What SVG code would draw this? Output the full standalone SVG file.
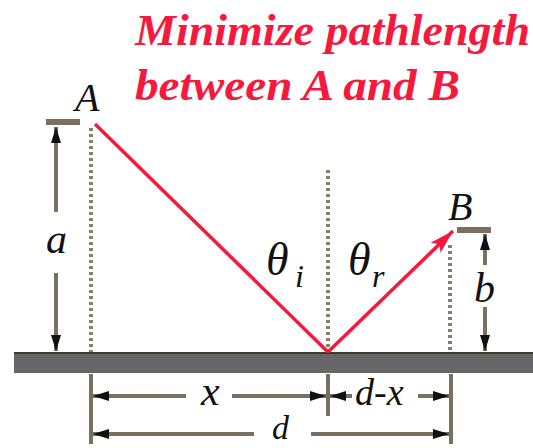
<svg xmlns="http://www.w3.org/2000/svg" width="533" height="448" viewBox="0 0 533 448">
<style>
.dim{stroke:#7a7060;stroke-width:4;fill:none}
.dot{stroke:#8a7f68;stroke-width:4;stroke-dasharray:3 3;fill:none}
.tick{stroke:#7a7060;stroke-width:6}
.lbl{font-style:italic;fill:#111}
.title{font-style:italic;font-weight:bold;fill:#f5193e;font-size:44px}
.ray{stroke:#f5193e;stroke-width:3.5;fill:none}
</style>
<defs>
<marker id="arr" viewBox="0 0 16 12" refX="16" refY="6" markerWidth="16" markerHeight="12" markerUnits="userSpaceOnUse" orient="auto"><path d="M0,1 L16,6 L0,11 z" fill="#111"/></marker>
<marker id="rarr" viewBox="0 0 24 14" refX="24" refY="7" markerWidth="24" markerHeight="14" markerUnits="userSpaceOnUse" orient="auto"><path d="M0,0 L24,7 L0,14 L5,7 z" fill="#f5193e"/></marker>
</defs>
<rect width="533" height="448" fill="#fff"/>
<g font-family="Liberation Serif, DejaVu Serif, serif">
<g id="title">
<text class="title" x="135" y="45" textLength="395" lengthAdjust="spacingAndGlyphs">Minimize pathlength</text>
<text class="title" x="135" y="100" textLength="325" lengthAdjust="spacingAndGlyphs">between A and B</text>
</g>
<g id="ground">
<rect x="14" y="352" width="519" height="21" fill="#666"/>
<line x1="14" y1="353" x2="533" y2="353" stroke="#3e3a34" stroke-width="2"/>
</g>
<g id="pointA">
<text class="lbl" x="75" y="111" font-size="40">A</text>
<line class="tick" x1="46" y1="122" x2="80" y2="122"/>
</g>
<g id="pointB">
<text class="lbl" x="448" y="220" font-size="40">B</text>
<line class="tick" x1="457" y1="230" x2="491" y2="230"/>
</g>
<g id="angles">
<text class="lbl" x="266" y="275" font-size="46">θ</text>
<text class="lbl" x="295" y="287" font-size="32">i</text>
<text class="lbl" x="348" y="275" font-size="46">θ</text>
<text class="lbl" x="372" y="287" font-size="32">r</text>
</g>
<g id="labels">
<text class="lbl" x="46" y="253" font-size="42">a</text>
<text class="lbl" x="474" y="302" font-size="42">b</text>
<text class="lbl" x="201" y="405" font-size="42">x</text>
<text class="lbl" x="355" y="405" font-size="38">d-x</text>
<text class="lbl" x="272" y="439" font-size="34">d</text>
</g>
</g>
<g id="connectors">
<line class="dot" x1="91" y1="128" x2="91" y2="352"/>
<line class="dot" x1="328" y1="170" x2="328" y2="352"/>
<line class="dot" x1="450" y1="245" x2="450" y2="352"/>
<line class="dim" x1="91" y1="374" x2="91" y2="444"/>
<line class="dim" x1="328" y1="374" x2="328" y2="416"/>
<line class="dim" x1="451" y1="374" x2="451" y2="444"/>
<line class="dim" x1="56" y1="212" x2="56" y2="127" marker-end="url(#arr)"/>
<line class="dim" x1="56" y1="273" x2="56" y2="351" marker-end="url(#arr)"/>
<line class="dim" x1="485" y1="265" x2="485" y2="234" marker-end="url(#arr)"/>
<line class="dim" x1="485" y1="307" x2="485" y2="351" marker-end="url(#arr)"/>
<line class="dim" x1="186" y1="396" x2="93" y2="396" marker-end="url(#arr)"/>
<line class="dim" x1="232" y1="396" x2="326" y2="396" marker-end="url(#arr)"/>
<line class="dim" x1="352" y1="396" x2="330" y2="396" marker-end="url(#arr)"/>
<line class="dim" x1="418" y1="396" x2="449" y2="396" marker-end="url(#arr)"/>
<line class="dim" x1="254" y1="434" x2="93" y2="434" marker-end="url(#arr)"/>
<line class="dim" x1="311" y1="434" x2="449" y2="434" marker-end="url(#arr)"/>
<line class="ray" x1="95" y1="124" x2="328" y2="352"/>
<line class="ray" x1="328" y1="352" x2="453" y2="231" marker-end="url(#rarr)"/>
</g>
</svg>
